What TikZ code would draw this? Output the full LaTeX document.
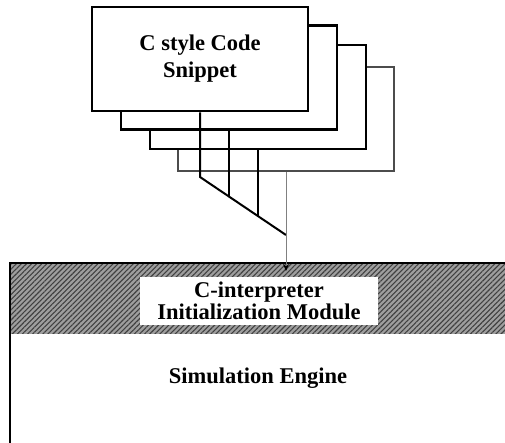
\documentclass[tikz,border=0pt]{standalone}
\usepackage{fontspec}
\setmainfont{Liberation Serif}
\usetikzlibrary{arrows.meta,patterns.meta}
\begin{document}
\begin{tikzpicture}[x=1pt,y=-1pt,
  lbl/.style={font=\fontsize{22.5}{28}\selectfont\bfseries, align=center},
  snippet/.style={draw, fill=white, minimum width=216pt, minimum height=104pt,
                  inner sep=0pt, line width=#1},
  feed/.style={line width=2pt},
  hatched/.style={preaction={fill=black!38},
                  pattern={Lines[angle=45,distance=3.6pt,line width=1.1pt]},
                  pattern color=black!75}]
  % canvas
  \fill[white] (0,0) rectangle (505,443);
  \useasboundingbox (0,0) rectangle (505,443);

  % stacked code-snippet sheets, back to front
  \node[snippet=1.6pt, draw=black!70] (s4) at (286,119) {};
  \node[snippet=2.2pt] (s3) at (258,97) {};
  \node[snippet=2.2pt] (s2) at (229,77.5) {};
  \node[snippet=2.6pt, lbl] (s1) at (200,59) {C style Code\\[-1pt]Snippet};

  % collecting lines
  \coordinate (j1) at (200,177);
  \coordinate (j2) at (229,196.6);
  \coordinate (j3) at (258,216.1);
  \coordinate (j4) at (286,235);
  \draw[feed] (s1.south) -- (j1) -- (j4);
  \draw[feed] (s2.south) -- (j2);
  \draw[feed] (s3.south) -- (j3);

  % simulation engine with its hatched initialisation band
  \begin{scope}
    \clip (0,0) rectangle (505,443);
    \node[hatched, anchor=north west, minimum width=510pt, minimum height=70pt,
          inner sep=0pt] (band) at (10,263) {};
    \draw[line width=1.6pt] (10,450) -- (10,263) -- (520,263);
  \end{scope}
  \node[lbl, fill=white, minimum width=238pt, minimum height=48pt, inner sep=0pt,
        font=\fontsize{22.5}{22}\selectfont\bfseries] (init) at (259,301)
        {C-interpreter\\Initialization Module};
  \node[lbl] (engine) at (258,378) {Simulation Engine};

  % feed into the interpreter
  \coordinate (tip) at (286,271);
  \draw[black!50, line width=1pt, -{Stealth[length=7pt,width=6pt,color=black]}]
        (s4.south) -- (tip);
\end{tikzpicture}
\end{document}
